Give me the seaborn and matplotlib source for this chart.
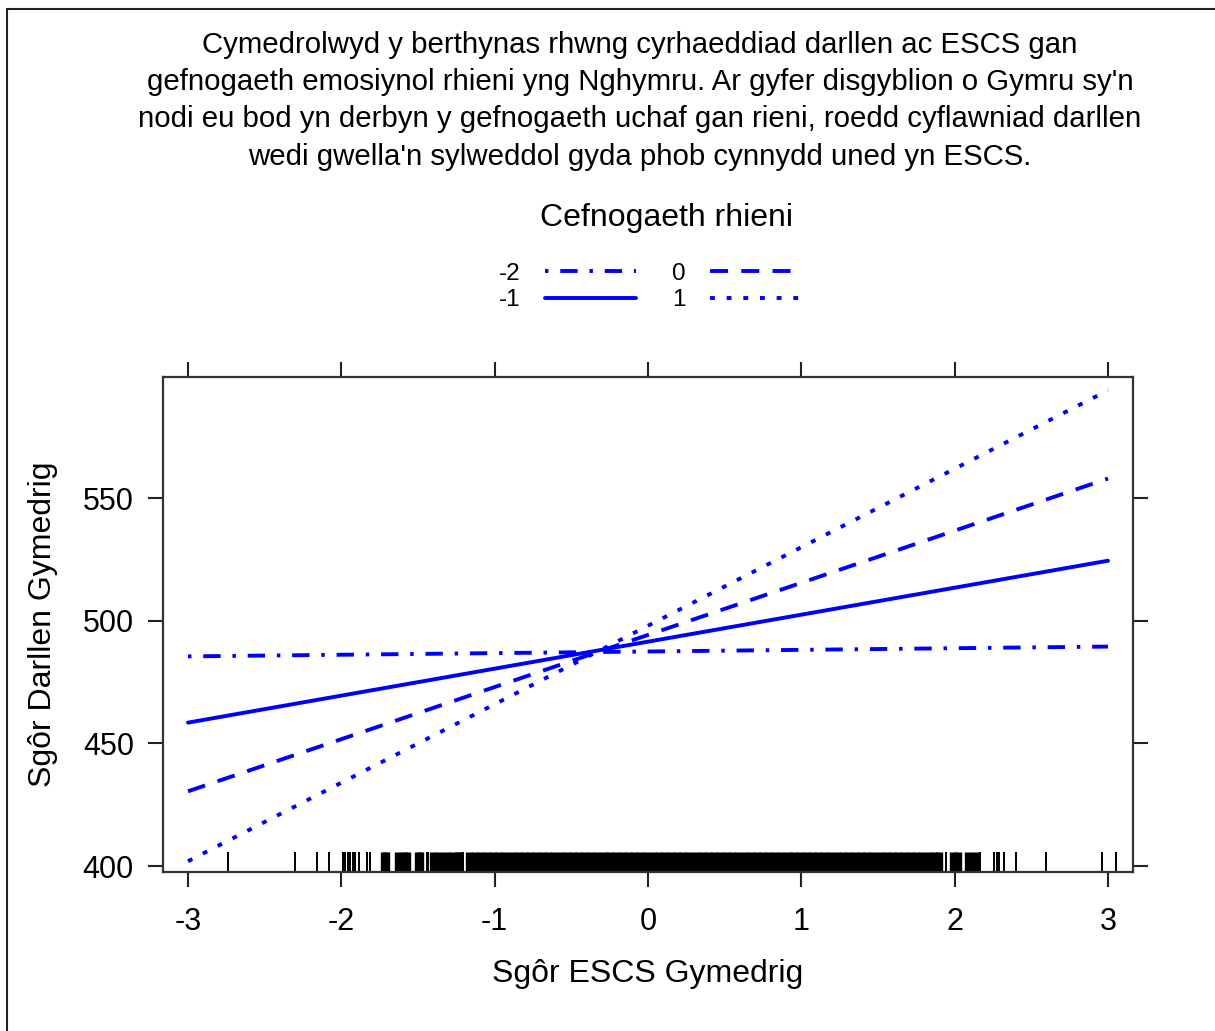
import seaborn as sns
import pandas as pd
import numpy as np
import matplotlib.pyplot as plt
from matplotlib.lines import Line2D

# values
escs_ends = [-3, 3]
support_levels = ['-2', '-1', '0', '1']
score_m2 = [485.5, 489.5]
score_m1 = [458.5, 524.5]
score_0 = [430.5, 558.0]
score_1 = [402.0, 594.0]

# observed ESCS values shown as rug (isolated ticks)
rug_sparse = [-2.74, -2.30, -2.16, -2.08, -1.99, -1.974, -1.958, -1.943, -1.926,
              -1.909, -1.885, -1.835, -1.815, -1.443, -1.433, -1.204,
              1.943, 2.167, 2.259, 2.276, 2.291, 2.324, 2.402, 2.596, 2.963, 3.052]
# densely packed rug region
rug_dense = [-1.72, -1.71, -1.63, -1.59, -1.57, -1.50, -1.485,
             -1.40, -1.36, -1.32, -1.28, -1.24, -1.235,
             -1.17, -1.13, -1.09, -1.05, -1.01, -0.97, -0.93, -0.89, -0.85, -0.81,
             -0.77, -0.73, -0.69, -0.65, -0.61, -0.57, -0.53, -0.49, -0.45, -0.41,
             -0.37, -0.33, -0.29, -0.25, -0.21, -0.17, -0.13, -0.09, -0.05, -0.01,
             0.03, 0.07, 0.11, 0.15, 0.19, 0.23, 0.27, 0.31, 0.35, 0.39, 0.43,
             0.47, 0.51, 0.55, 0.59, 0.63, 0.67, 0.71, 0.75, 0.79, 0.83, 0.87,
             0.91, 0.95, 0.99, 1.03, 1.07, 1.11, 1.15, 1.19, 1.23, 1.27, 1.31,
             1.35, 1.39, 1.43, 1.47, 1.51, 1.55, 1.59, 1.63, 1.67, 1.71, 1.75,
             1.79, 1.83, 1.87, 1.90, 1.99, 2.02, 2.09, 2.13]

xticks = [-3, -2, -1, 0, 1, 2, 3]
yticks = [400, 450, 500, 550]

title_text = ("Cymedrolwyd y berthynas rhwng cyrhaeddiad darllen ac ESCS gan\n"
              "gefnogaeth emosiynol rhieni yng Nghymru. Ar gyfer disgyblion o Gymru sy'n\n"
              "nodi eu bod yn derbyn y gefnogaeth uchaf gan rieni, roedd cyflawniad darllen\n"
              "wedi gwella'n sylweddol gyda phob cynnydd uned yn ESCS.")

sns.set_theme(style="ticks")
plt.rcParams['font.family'] = ['Liberation Sans', 'DejaVu Sans']
plt.rcParams['lines.scale_dashes'] = False
plt.rcParams['text.color'] = 'black'
plt.rcParams['axes.labelcolor'] = 'black'
plt.rcParams['xtick.labelcolor'] = 'black'
plt.rcParams['ytick.labelcolor'] = 'black'

df = pd.DataFrame({
    'escs': escs_ends * 4,
    'score': score_m2 + score_m1 + score_0 + score_1,
    'support': [s for s in support_levels for _ in escs_ends],
})

dash_map = {'-2': (2.5, 8.5, 12.5, 8.5), '-1': '', '0': (13, 9.5), '1': (3.5, 8.5)}

fig = plt.figure(figsize=(12.15, 10.31), dpi=100)
ax = fig.add_axes([163 / 1215, 1 - 872 / 1031, (1133 - 163) / 1215, (872 - 377) / 1031])

sns.lineplot(data=df, x='escs', y='score', style='support', style_order=support_levels,
             dashes=dash_map, color='#0000ff', lw=2.8, ax=ax, legend=False)
sns.rugplot(x=rug_sparse, height=0.041, color='black', linewidth=1.4, ax=ax,
            expand_margins=False)
sns.rugplot(x=rug_dense, height=0.041, color='black', linewidth=5.3, ax=ax,
            expand_margins=False)

ax.set_xlim(-3.163, 3.163)
ax.set_ylim(397.6, 599.4)
ax.set_xticks(xticks)
ax.set_xticklabels([str(t) for t in xticks])
ax.set_yticks(yticks)
ax.set_xlabel('Sgôr ESCS Gymedrig', fontsize=23, labelpad=16)
ax.set_ylabel('Sgôr Darllen Gymedrig', fontsize=23, labelpad=18)
ax.tick_params(axis='both', which='both', direction='out', length=11, width=1.5,
               labelsize=22, top=True, right=True, labeltop=False, labelright=False,
               pad=10, color='#222222')
ax.tick_params(axis='x', pad=14)
for sp in ax.spines.values():
    sp.set_color('#333333')
    sp.set_linewidth(1.6)

handles = [Line2D([0], [0], color='#0000ff', lw=2.8, dashes=dash_map[s]) if dash_map[s]
           else Line2D([0], [0], color='#0000ff', lw=2.8) for s in support_levels]
leg = fig.legend(handles, support_levels, ncol=2, markerfirst=False, frameon=False,
                 fontsize=17.5, handlelength=3.75, handletextpad=1.0, columnspacing=1.5,
                 labelspacing=0.2, loc='center',
                 bbox_to_anchor=(650 / 1215, 1 - 287 / 1031))
fig.text(667 / 1215, 1 - 218 / 1031, 'Cefnogaeth rhieni', ha='center', va='center',
         fontsize=23)

fig.text(640 / 1215, 1 - 31 / 1031, title_text, ha='center', va='top',
         fontsize=21.2, linespacing=1.42)

# figure frame (top and left edges)
fig.add_artist(Line2D([7 / 1215, 1], [1 - 9 / 1031, 1 - 9 / 1031],
                      transform=fig.transFigure, color='#222222', lw=1.5))
fig.add_artist(Line2D([7 / 1215, 7 / 1215], [0, 1 - 9 / 1031],
                      transform=fig.transFigure, color='#222222', lw=1.5))

fig.savefig('out.png', dpi=100, facecolor='white')
